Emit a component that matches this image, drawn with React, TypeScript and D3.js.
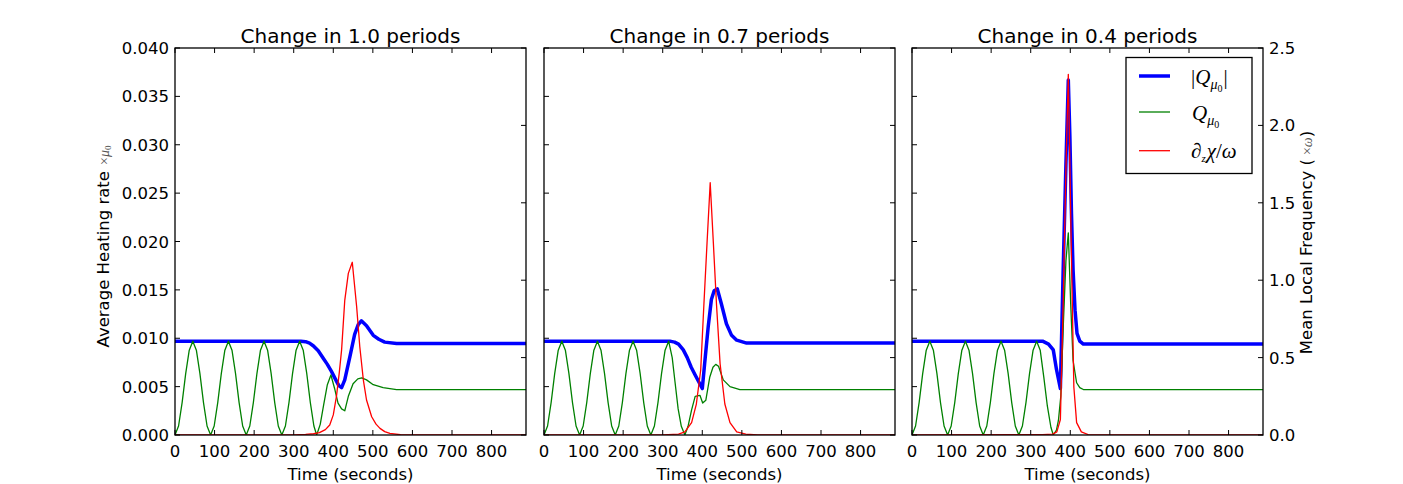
import * as React from 'react';
import * as d3 from 'd3';

type Pt = [number, number];

const TITLES = ['Change in 1.0 periods', 'Change in 0.7 periods', 'Change in 0.4 periods'];
const X_TICKS = [0, 100, 200, 300, 400, 500, 600, 700, 800];
const LEFT_TICKS = [0, 0.005, 0.01, 0.015, 0.02, 0.025, 0.03, 0.035, 0.04];
const RIGHT_TICKS = [0, 0.5, 1.0, 1.5, 2.0, 2.5];
const T_MAX = 887;
const LEFT_MAX = 0.04;
const RIGHT_MAX = 2.5;

// heating rate oscillation before the change (same in every run)
const Q_EARLY: Pt[] = [
  [0, 0], [9, 0.00093], [18, 0.00335], [27, 0.00635], [36, 0.00877], [45, 0.0097],
  [54, 0.00877], [63, 0.00635], [72, 0.00335], [81, 0.00093], [90, 0],
  [99, 0.00093], [108, 0.00335], [117, 0.00635], [126, 0.00877], [135, 0.0097],
  [144, 0.00877], [153, 0.00635], [162, 0.00335], [171, 0.00093], [180, 0],
  [189, 0.00093], [198, 0.00335], [207, 0.00635], [216, 0.00877], [225, 0.0097],
  [234, 0.00877], [243, 0.00635], [252, 0.00335], [261, 0.00093], [270, 0],
  [279, 0.00093], [288, 0.00335], [297, 0.00635], [306, 0.00877], [315, 0.0097],
];

// panel 1: change in 1.0 periods
const P1_ABS: Pt[] = [
  [0, 0.0097], [318, 0.0097], [330, 0.00965], [340, 0.0095], [350, 0.0092], [362, 0.0087],
  [375, 0.0079], [385, 0.0073], [395, 0.0066], [405, 0.0058], [414, 0.0051], [421, 0.0049],
  [429, 0.0057], [442, 0.0081], [454, 0.0104], [463, 0.0114], [471, 0.0118], [484, 0.0113],
  [501, 0.0103], [515, 0.0099], [530, 0.0096], [560, 0.00945], [887, 0.00945],
];
const P1_Q_LATE: Pt[] = [
  [324, 0.00877], [333, 0.00635], [342, 0.00335], [351, 0.00093], [358, 0], [367, 0.0011],
  [376, 0.0032], [385, 0.0052], [394, 0.0062], [404, 0.0047], [412, 0.0033], [421, 0.0027],
  [429, 0.0025], [438, 0.004], [450, 0.0053], [462, 0.0058], [472, 0.0059], [484, 0.0057],
  [501, 0.0052], [526, 0.0049], [560, 0.0047], [887, 0.0047],
];
const P1_FREQ: Pt[] = [
  [0, 0], [300, 0.001], [330, 0.004], [350, 0.008], [365, 0.015], [380, 0.035], [391, 0.065],
  [400, 0.13], [408, 0.25], [415, 0.4], [421, 0.55], [429, 0.87], [438, 1.044], [448, 1.116],
  [459, 0.83], [467, 0.57], [476, 0.355], [484, 0.226], [497, 0.118], [508, 0.07], [518, 0.043],
  [530, 0.022], [543, 0.01], [570, 0.002], [600, 0], [887, 0],
];

// panel 2: change in 0.7 periods
const P2_ABS: Pt[] = [
  [0, 0.0097], [318, 0.0097], [330, 0.0096], [340, 0.0094], [352, 0.0088], [362, 0.008],
  [372, 0.007], [382, 0.0062], [391, 0.0055], [400, 0.0048], [406, 0.0074], [415, 0.0112],
  [423, 0.014], [430, 0.0149], [438, 0.0151], [448, 0.0136], [461, 0.0115], [474, 0.0103],
  [487, 0.0098], [512, 0.0095], [887, 0.0095],
];
const P2_Q_LATE: Pt[] = [
  [324, 0.008], [331, 0.0055], [339, 0.0027], [347, 0.0009], [356, 0], [364, 0.0009],
  [373, 0.0026], [382, 0.004], [394, 0.0041], [401, 0.0033], [409, 0.0036], [419, 0.006],
  [427, 0.007], [434, 0.0073], [441, 0.0071], [453, 0.0057], [470, 0.005], [495, 0.0047],
  [887, 0.0047],
];
const P2_FREQ: Pt[] = [
  [0, 0], [300, 0.001], [340, 0.006], [356, 0.02], [373, 0.08], [385, 0.2], [396, 0.42],
  [404, 0.84], [412, 1.24], [420, 1.63], [428, 1.24], [436, 0.84], [445, 0.46], [457, 0.2],
  [470, 0.08], [487, 0.02], [510, 0.005], [540, 0], [887, 0],
];

// panel 3: change in 0.4 periods
const P3_ABS: Pt[] = [
  [0, 0.0097], [330, 0.0097], [345, 0.0094], [357, 0.0088], [365, 0.0068], [375, 0.0048],
  [382, 0.017], [389, 0.028], [395, 0.0367], [399, 0.0308], [403, 0.0229], [407, 0.0171],
  [412, 0.0129], [417, 0.0105], [424, 0.0097], [433, 0.0094], [887, 0.0094],
];
const P3_Q_LATE: Pt[] = [
  [324, 0.00877], [333, 0.006], [342, 0.003], [351, 0.0008], [357, 0], [365, 0.0005],
  [370, 0.0015], [376, 0.004], [382, 0.011], [389, 0.018], [395, 0.0209], [401, 0.0136],
  [407, 0.0077], [416, 0.0054], [424, 0.0049], [433, 0.0047], [887, 0.0047],
];
const P3_FREQ: Pt[] = [
  [0, 0], [330, 0.002], [355, 0.006], [366, 0.02], [375, 0.1], [382, 0.85], [389, 1.71],
  [395, 2.33], [403, 1.14], [409, 0.31], [416, 0.08], [428, 0.02], [445, 0.003], [470, 0],
  [887, 0],
];

const ABS_SERIES = [P1_ABS, P2_ABS, P3_ABS];
const Q_SERIES = [Q_EARLY.concat(P1_Q_LATE), Q_EARLY.concat(P2_Q_LATE), Q_EARLY.concat(P3_Q_LATE)];
const FREQ_SERIES = [P1_FREQ, P2_FREQ, P3_FREQ];

const WIDTH = 1403;
const HEIGHT = 484;
const PANEL_LEFT = [175, 544, 912];
const PANEL_W = 351;
const TOP = 48;
const BOTTOM = 435;
const TICK = 5;
const FONT = "'DejaVu Sans', sans-serif";
const MATH = "'Liberation Serif', 'DejaVu Serif', serif";

function Panel({ i }: { i: number }) {
  const x0 = PANEL_LEFT[i];
  const x1 = x0 + PANEL_W;
  const x = d3.scaleLinear().domain([0, T_MAX]).range([x0, x1]);
  const yL = d3.scaleLinear().domain([0, LEFT_MAX]).range([BOTTOM, TOP]);
  const yR = d3.scaleLinear().domain([0, RIGHT_MAX]).range([BOTTOM, TOP]);
  const lineL = d3.line<Pt>().x(d => x(d[0])).y(d => yL(d[1]));
  const lineR = d3.line<Pt>().x(d => x(d[0])).y(d => yR(d[1]));
  const clipId = `clip${i}`;

  return (
    <g>
      <clipPath id={clipId}>
        <rect x={x0} y={TOP} width={PANEL_W} height={BOTTOM - TOP} />
      </clipPath>
      <g clipPath={`url(#${clipId})`} fill="none" strokeLinejoin="round">
        <path d={lineL(ABS_SERIES[i]) || ''} stroke="#0000ff" strokeWidth={3.5} />
        <path d={lineL(Q_SERIES[i]) || ''} stroke="#008000" strokeWidth={1.3} />
        <path d={lineR(FREQ_SERIES[i]) || ''} stroke="#ff0000" strokeWidth={1.3} />
      </g>

      <g stroke="#000" strokeWidth={1}>
        {X_TICKS.map(t => (
          <g key={`x${t}`}>
            <line x1={x(t)} x2={x(t)} y1={BOTTOM} y2={BOTTOM - TICK} />
            <line x1={x(t)} x2={x(t)} y1={TOP} y2={TOP + TICK} />
          </g>
        ))}
        {LEFT_TICKS.map(v => (
          <line key={`l${v}`} x1={x0} x2={x0 + TICK} y1={yL(v)} y2={yL(v)} />
        ))}
        {RIGHT_TICKS.map(v => (
          <line key={`r${v}`} x1={x1} x2={x1 - TICK} y1={yR(v)} y2={yR(v)} />
        ))}
      </g>
      <rect x={x0} y={TOP} width={PANEL_W} height={BOTTOM - TOP} fill="none" stroke="#000" strokeWidth={1.3} />

      <g fontFamily={FONT} fontSize={16.5} fill="#000">
        {X_TICKS.map(t => (
          <text key={`xt${t}`} x={x(t)} y={457} textAnchor="middle">{t}</text>
        ))}
        {i === 0 && LEFT_TICKS.map(v => (
          <text key={`lt${v}`} x={x0 - 6} y={yL(v) + 6} textAnchor="end">{d3.format('.3f')(v)}</text>
        ))}
        {i === 2 && RIGHT_TICKS.map(v => (
          <text key={`rt${v}`} x={x1 + 6} y={yR(v) + 6} textAnchor="start">{d3.format('.1f')(v)}</text>
        ))}
        <text x={(x0 + x1) / 2} y={480} textAnchor="middle">Time (seconds)</text>
        <text x={(x0 + x1) / 2} y={42.5} textAnchor="middle" fontSize={20}>{TITLES[i]}</text>
      </g>
    </g>
  );
}

function Legend() {
  const lx = 1126;
  const ly = 57.5;
  const rows = [
    { color: '#0000ff', width: 3.5, y: 76 },
    { color: '#008000', width: 1.3, y: 112 },
    { color: '#ff0000', width: 1.3, y: 150.7 },
  ];
  return (
    <g>
      <rect x={lx} y={ly} width={126} height={116} fill="#fff" stroke="#000" strokeWidth={1.3} />
      {rows.map(r => (
        <line key={r.y} x1={1139} x2={1170} y1={r.y} y2={r.y} stroke={r.color} strokeWidth={r.width} />
      ))}
      <g fontFamily={MATH} fontSize={21} fill="#000">
        <text x={1191} y={84}>
          <tspan>|</tspan>
          <tspan fontStyle="italic">Q</tspan>
          <tspan fontStyle="italic" fontSize={14} dy={5}>μ</tspan>
          <tspan fontSize={10} dy={3}>0</tspan>
          <tspan dy={-8} dx={1}>|</tspan>
        </text>
        <text x={1192} y={120}>
          <tspan fontStyle="italic">Q</tspan>
          <tspan fontStyle="italic" fontSize={14} dy={5}>μ</tspan>
          <tspan fontSize={10} dy={3}>0</tspan>
        </text>
        <text x={1191} y={158}>
          <tspan fontStyle="italic">∂</tspan>
          <tspan fontStyle="italic" fontSize={11} dy={4}>z</tspan>
          <tspan fontStyle="italic" dy={-4} dx={1}>χ</tspan>
          <tspan>/</tspan>
          <tspan fontStyle="italic">ω</tspan>
        </text>
      </g>
    </g>
  );
}

export default function App() {
  return (
    <svg
      width={WIDTH}
      height={HEIGHT}
      viewBox={`0 0 ${WIDTH} ${HEIGHT}`}
      style={{ position: 'absolute', left: 0, top: 0, background: '#fff' }}
    >
      <rect width={WIDTH} height={HEIGHT} fill="#fff" />
      {TITLES.map((_, i) => (
        <Panel key={i} i={i} />
      ))}
      <Legend />
      <text
        transform="translate(108.5,246.5) rotate(-90)"
        textAnchor="middle"
        fontFamily={FONT}
        fontSize={16.5}
        fill="#000"
      >
        Average Heating rate
        <tspan dx={6} fontFamily={MATH} fontSize={14} fill="#555">×</tspan>
        <tspan fontFamily={MATH} fontStyle="italic" fontSize={14} fill="#555">μ</tspan>
        <tspan fontFamily={MATH} fontSize={9} fill="#555" dy={2}>0</tspan>
      </text>
      <text
        transform="translate(1312,242.5) rotate(-90)"
        textAnchor="middle"
        fontFamily={FONT}
        fontSize={16.5}
        fill="#000"
      >
        Mean Local Frequency (
        <tspan dx={4} fontFamily={MATH} fontSize={14} fill="#555">×</tspan>
        <tspan fontFamily={MATH} fontStyle="italic" fontSize={14} fill="#555">ω</tspan>
        <tspan>)</tspan>
      </text>
    </svg>
  );
}
